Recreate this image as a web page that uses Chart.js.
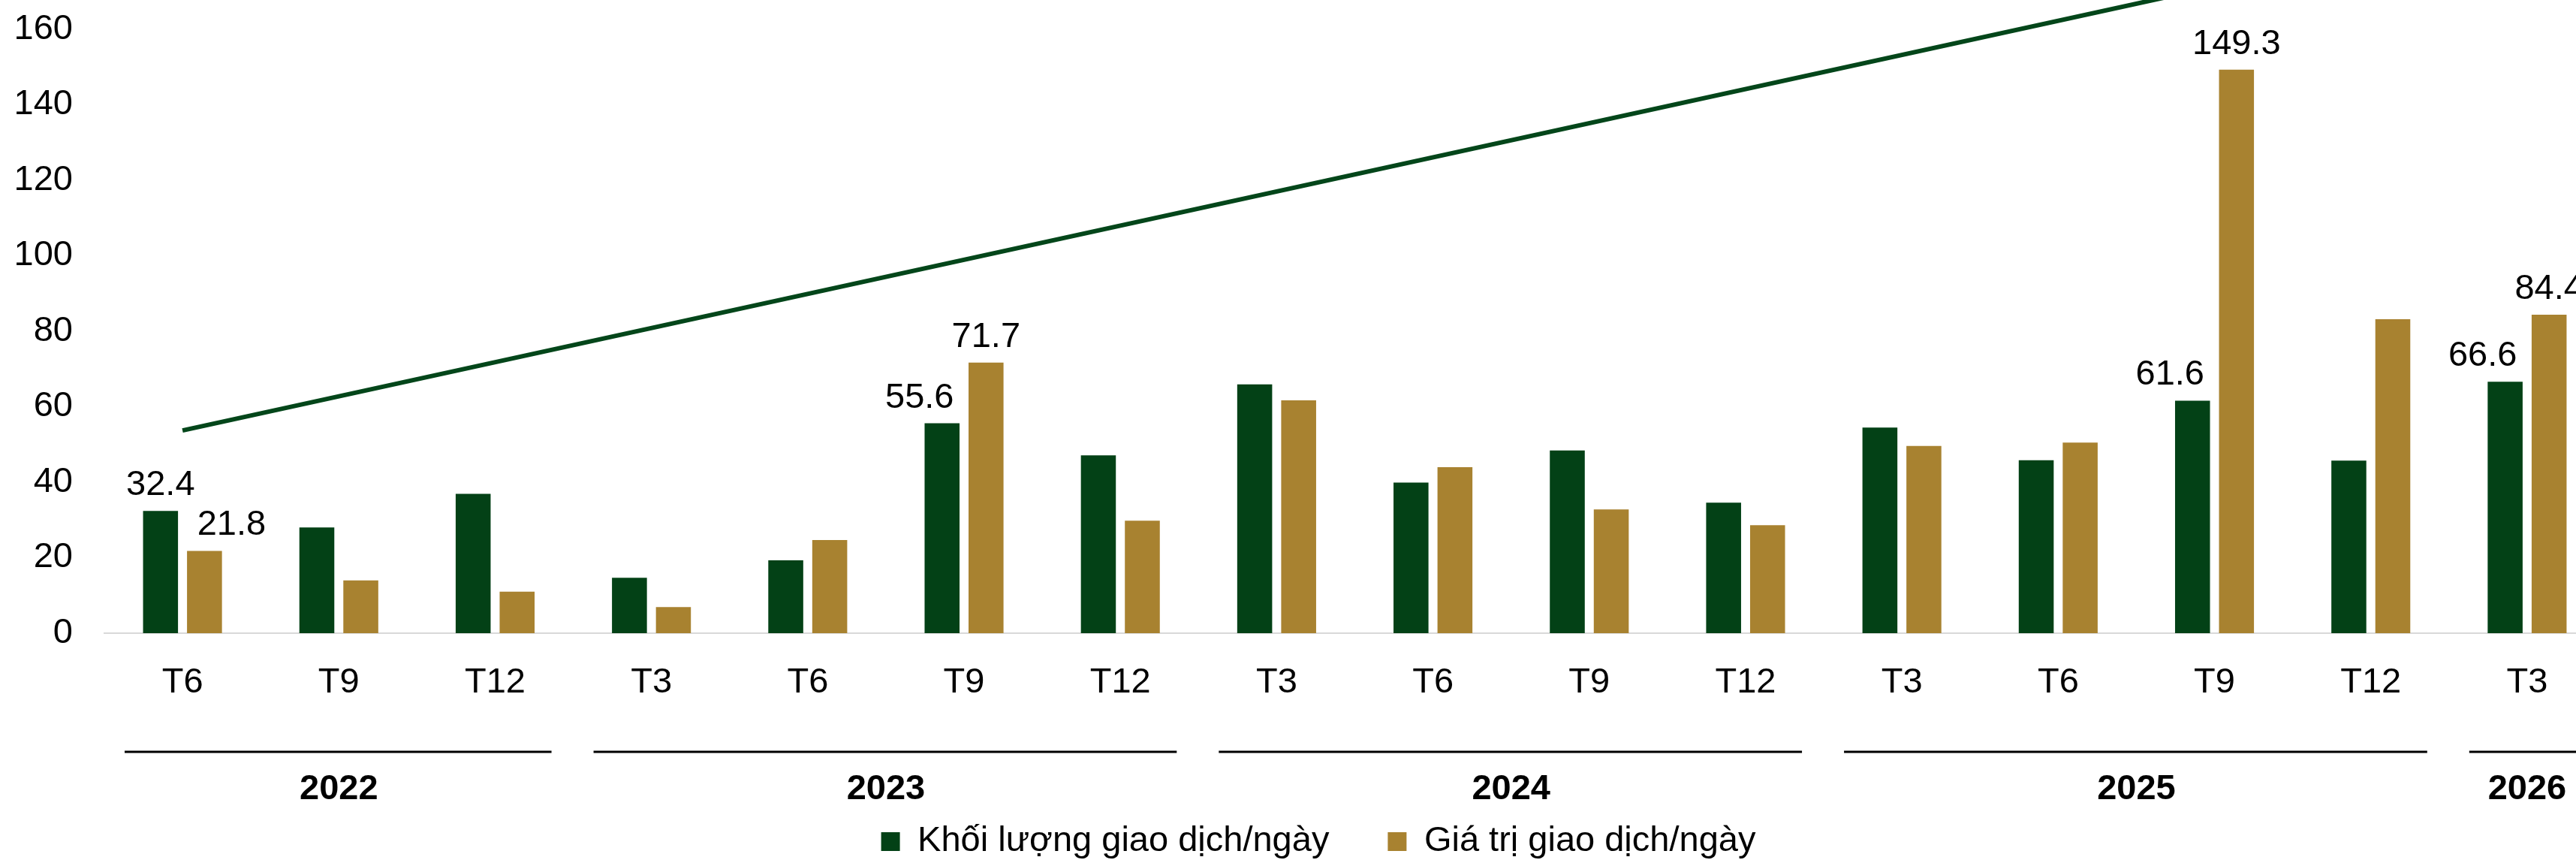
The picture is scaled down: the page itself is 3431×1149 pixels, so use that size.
<!DOCTYPE html>
<html>
<head>
<meta charset="utf-8">
<script src="https://cdn.jsdelivr.net/npm/chart.js@4.4.1/dist/chart.umd.min.js"></script>
<style>
  html, body { margin: 0; padding: 0; background: #fff; overflow: hidden; }
  #chart { display: block; }
</style>
</head>
<body>
<canvas id="chart" width="3475" height="1149"></canvas>
<script>
// Nhãn trục hoành (tháng) và nhóm năm
const months = ["T6", "T9", "T12", "T3", "T6", "T9", "T12", "T3", "T6", "T9", "T12", "T3", "T6", "T9", "T12", "T3"];
const years = ["2022", "2023", "2024", "2025", "2026"];
const yearSpans = [3, 4, 4, 4, 1];

// Số liệu
const volume = [32.4, 28.0, 36.9, 14.7, 19.3, 55.6, 47.1, 65.9, 39.9, 48.4, 34.6, 54.5, 45.8, 61.6, 45.7, 66.6];
const value = [21.8, 14.0, 11.0, 6.9, 24.7, 71.7, 29.8, 61.7, 44.0, 32.8, 28.6, 49.6, 50.5, 149.3, 83.2, 84.4];
const trend = [53.7, null, null, null, null, null, null, null, null, null, null, null, null, 171.3, null, null];
const labeledIdx = [0, 5, 13, 15];

const yTicks = [0, 20, 40, 60, 80, 100, 120, 140, 160];

const GREEN = "#034116";
const GOLD = "#a88230";
const FONT = "'Liberation Sans', Arial, sans-serif";

// Nhãn giá trị trên cột
const valueLabels = {
  id: "valueLabels",
  afterDatasetsDraw(chart) {
    const ctx = chart.ctx;
    const m0 = chart.getDatasetMeta(0);
    const m1 = chart.getDatasetMeta(1);
    ctx.save();
    ctx.font = `47px ${FONT}`;
    ctx.fillStyle = "#000";
    ctx.textAlign = "center";
    ctx.textBaseline = "alphabetic";
    labeledIdx.forEach((i) => {
      const a = m0.data[i];
      const b = m1.data[i];
      let dxA = 0;
      let dxB = 0;
      if (volume[i] >= value[i]) dxB = 36;
      else dxA = -30;
      ctx.fillText(volume[i].toFixed(1), a.x + dxA, a.y - 21);
      ctx.fillText(value[i].toFixed(1), b.x + dxB, b.y - 21);
    });
    ctx.restore();
  },
};

// Nhóm năm dưới trục hoành
const yearGroups = {
  id: "yearGroups",
  afterLayout(chart) {
    // dịch chú thích sang phải một chút
    chart.legend.left += 21;
    chart.legend.right += 21;
  },
  afterDraw(chart) {
    const ctx = chart.ctx;
    const x = chart.scales.x;
    const base = chart.chartArea.bottom;
    const half = x.width / months.length / 2;
    let start = 0;
    ctx.save();
    years.forEach((yr, k) => {
      const end = start + yearSpans[k] - 1;
      const x1 = x.getPixelForValue(start) - half + 27;
      const x2 = x.getPixelForValue(end) + half - 29;
      ctx.strokeStyle = "#000";
      ctx.lineWidth = 3;
      ctx.beginPath();
      ctx.moveTo(x1, base + 158);
      ctx.lineTo(x2, base + 158);
      ctx.stroke();
      ctx.font = `bold 47px ${FONT}`;
      ctx.fillStyle = "#000";
      ctx.textAlign = "center";
      ctx.textBaseline = "middle";
      const cx = (x.getPixelForValue(start) + x.getPixelForValue(end)) / 2;
      ctx.fillText(yr, cx, base + 208);
      start = end + 1;
    });
    ctx.restore();
  },
};

new Chart(document.getElementById("chart").getContext("2d"), {
  data: {
    labels: months,
    datasets: [
      {
        type: "bar",
        label: "Khối lượng giao dịch/ngày",
        data: volume,
        backgroundColor: GREEN,
        categoryPercentage: 0.5625,
        barPercentage: 0.795,
        order: 1,
      },
      {
        type: "bar",
        label: "Giá trị giao dịch/ngày",
        data: value,
        backgroundColor: GOLD,
        categoryPercentage: 0.5625,
        barPercentage: 0.795,
        order: 1,
      },
      {
        type: "line",
        label: "trend",
        data: trend,
        borderColor: "#03461a",
        borderWidth: 6,
        pointRadius: 0,
        spanGaps: true,
        clip: false,
        order: 0,
      },
    ],
  },
  options: {
    responsive: false,
    animation: false,
    devicePixelRatio: 1,
    layout: { padding: { top: 39, right: 5, left: 0, bottom: -5 } },
    scales: {
      x: {
        grid: { display: false },
        border: { display: true, color: "#d9d9d9", width: 2 },
        ticks: { color: "#000", font: { family: FONT, size: 47 }, padding: 30, maxRotation: 0, autoSkip: false },
        afterFit: (scale) => { scale.height = 176; },
      },
      y: {
        min: 0,
        max: 160,
        grid: { display: false },
        border: { display: false },
        afterBuildTicks: (scale) => { scale.ticks = yTicks.map((v) => ({ value: v })); },
        ticks: { color: "#000", font: { family: FONT, size: 47 }, padding: 34 },
        afterFit: (scale) => {
          scale.width = 139;
          scale.paddingTop = 0;
          scale.paddingBottom = 0;
        },
      },
    },
    plugins: {
      legend: {
        position: "bottom",
        labels: {
          color: "#000",
          font: { family: FONT, size: 47 },
          boxWidth: 25,
          boxHeight: 25,
          padding: 78,
          filter: (item) => item.datasetIndex < 2,
        },
      },
      tooltip: { enabled: false },
    },
  },
  plugins: [valueLabels, yearGroups],
});
</script>
</body>
</html>
